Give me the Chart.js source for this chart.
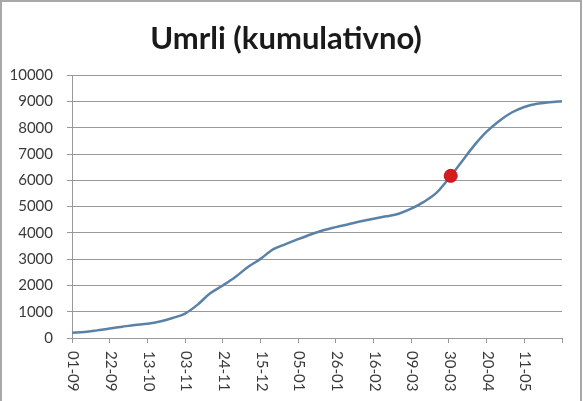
<!DOCTYPE html>
<html lang="sl">
<head>
    <meta charset="UTF-8">
    <title>Umrli (kumulativno)</title>
    <script src="https://cdn.jsdelivr.net/npm/chart.js"></script>
    <style>
        body { margin: 0; background: #fff; }
        #wrap { position: relative; width: 583px; height: 401px; }
        #frame {
            position: absolute; left: 0; top: 0; width: 582px; height: 401px;
            box-sizing: border-box; border: 2px solid #a8a8a8; border-bottom: none;
            pointer-events: none;
        }
    </style>
</head>
<body>
    <div id="wrap">
        <canvas id="Chart1"></canvas>
        <div id="frame"></div>
    </div>

    <script>
        // day offset from 01-09, cumulative deaths
        const days = [0, 7, 14, 21, 28, 35, 42, 49, 56, 63, 70, 77, 84, 91, 98, 105, 112, 119, 126, 133,
                      140, 147, 154, 161, 168, 175, 182, 189, 196, 203, 210, 217, 224, 231, 238, 245, 252, 259, 266, 273];
        const deaths = [200, 225, 290, 365, 430, 495, 545, 630, 760, 930, 1270, 1700, 2000, 2320, 2700, 3010, 3370, 3570, 3760, 3940,
                        4100, 4220, 4330, 4440, 4540, 4630, 4730, 4920, 5180, 5520, 6080, 6700, 7320, 7850, 8260, 8580, 8790, 8910, 8970, 9010];
        const tickLabels = ['01-09', '22-09', '13-10', '03-11', '24-11', '15-12', '05-01', '26-01', '16-02', '09-03', '30-03', '20-04', '11-05', ''];
        const markerDay = 211;
        const markerValue = 6170;

        const fontFamily = 'Lato, "Open Sans", sans-serif';

        // x labels read top-to-bottom, so draw them ourselves at the scale's tick pixels
        const verticalLabels = {
            id: 'verticalLabels',
            afterDraw(chart) {
                const xs = chart.scales.x;
                const c = chart.ctx;
                c.save();
                c.font = '15px ' + fontFamily;
                c.fillStyle = '#3a3a3a';
                xs.ticks.forEach((t, i) => {
                    const label = tickLabels[i] || '';
                    if (!label) return;
                    const px = xs.getPixelForValue(t.value);
                    c.save();
                    c.translate(px + 1, xs.top + 13);
                    c.rotate(Math.PI / 2);
                    c.textAlign = 'left';
                    c.textBaseline = 'middle';
                    c.fillText(label, 0, 0);
                    c.restore();
                });
                c.restore();
            }
        };

        const ctx = document.getElementById('Chart1').getContext('2d');
        const chart = new Chart(ctx, {
            type: 'line',
            data: {
                datasets: [{
                    label: 'Marker',
                    data: [{ x: markerDay, y: markerValue }],
                    showLine: false,
                    pointRadius: 6.5,
                    pointBackgroundColor: '#d61c1f',
                    pointBorderColor: '#c01215',
                    pointBorderWidth: 1,
                    order: 0
                }, {
                    label: 'Umrli',
                    data: days.map((d, i) => ({ x: d, y: deaths[i] })),
                    borderColor: '#5a82a6',
                    borderWidth: 2.5,
                    pointRadius: 0,
                    cubicInterpolationMode: 'monotone',
                    order: 1
                }]
            },
            options: {
                responsive: true,
                maintainAspectRatio: false,
                animation: false,
                layout: {
                    padding: { left: 10, right: 21, top: 0, bottom: 58 }
                },
                plugins: {
                    legend: { display: false },
                    tooltip: { enabled: false },
                    title: {
                        display: true,
                        text: 'Umrli (kumulativno)',
                        color: '#1a1a1a',
                        font: { family: fontFamily, size: 31, weight: 'bold' },
                        padding: { top: 20, bottom: 18 }
                    }
                },
                scales: {
                    x: {
                        type: 'linear',
                        min: 0,
                        max: 273,
                        ticks: { display: false, stepSize: 21 },
                        grid: {
                            drawOnChartArea: false,
                            drawTicks: true,
                            tickLength: 5,
                            color: '#999'
                        },
                        border: { color: '#999', width: 1 }
                    },
                    y: {
                        min: 0,
                        max: 10000,
                        afterFit: s => { s.width = 62; },
                        ticks: {
                            stepSize: 1000,
                            padding: 14,
                            color: '#3a3a3a',
                            font: { family: fontFamily, size: 15 },
                            callback: v => String(v)
                        },
                        grid: {
                            color: '#999',
                            tickLength: 5
                        },
                        border: { color: '#999', width: 1 }
                    }
                }
            },
            plugins: [verticalLabels]
        });
    </script>
</body>
</html>
